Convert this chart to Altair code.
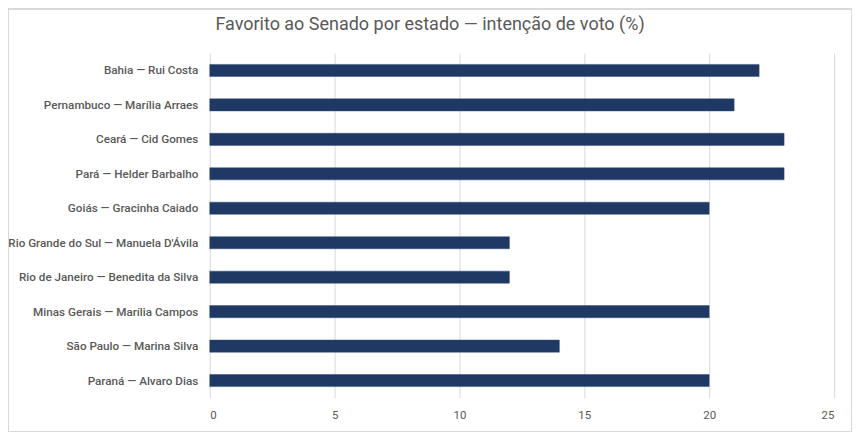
import altair as alt
import pandas as pd

categories = [
    "Bahia — Rui Costa",
    "Pernambuco — Marília Arraes",
    "Ceará — Cid Gomes",
    "Pará — Helder Barbalho",
    "Goiás — Gracinha Caiado",
    "Rio Grande do Sul — Manuela D'Ávila",
    "Rio de Janeiro — Benedita da Silva",
    "Minas Gerais — Marília Campos",
    "São Paulo — Marina Silva",
    "Paraná — Alvaro Dias",
]
values = [22, 21, 23, 23, 20, 12, 12, 20, 14, 20]
x_ticks = [0, 5, 10, 15, 20, 25]

df = pd.DataFrame({"cat": categories, "val": values})

FONT = "Roboto"
GRAY = "#595959"

bars = alt.Chart(df).mark_bar(color="#1F3864", stroke="#2E4A7A", strokeWidth=0.5).encode(
    x=alt.X("val:Q", scale=alt.Scale(domain=[0, 25], nice=False),
            axis=alt.Axis(values=x_ticks, title=None, grid=True, gridColor="#D9D9D9",
                          domain=False, ticks=False, labelColor=GRAY, labelFont=FONT,
                          labelFontSize=11.5, labelPadding=12)),
    y=alt.Y("cat:N", sort=categories,
            scale=alt.Scale(paddingInner=0.65, paddingOuter=0.325),
            axis=alt.Axis(title=None, domain=False, ticks=False, labelColor=GRAY,
                          labelFont=FONT, labelFontSize=11.7, labelFontWeight=500,
                          labelPadding=12, labelLimit=300)),
)

frame = alt.Chart(df).mark_rect(fill=None, stroke="#D9D9D9", strokeWidth=1).encode(
    x=alt.value(-201.5), x2=alt.value(642.5), y=alt.value(-44.5), y2=alt.value(379.5)
)

chart = alt.layer(frame, bars).properties(
    width=625,
    height=345,
    padding={"left": 202, "top": 45, "right": 18, "bottom": 35},
    autosize=alt.AutoSizeParams(type="none"),
    title=alt.TitleParams(
        "Favorito ao Senado por estado — intenção de voto (%)",
        font=FONT, fontSize=18, fontWeight="normal", color=GRAY,
        anchor="middle", frame="group", dx=-92, offset=-26,
    ),
).configure_view(stroke=None)

chart.save("out.html", embed_options={"renderer": "svg", "actions": False})
